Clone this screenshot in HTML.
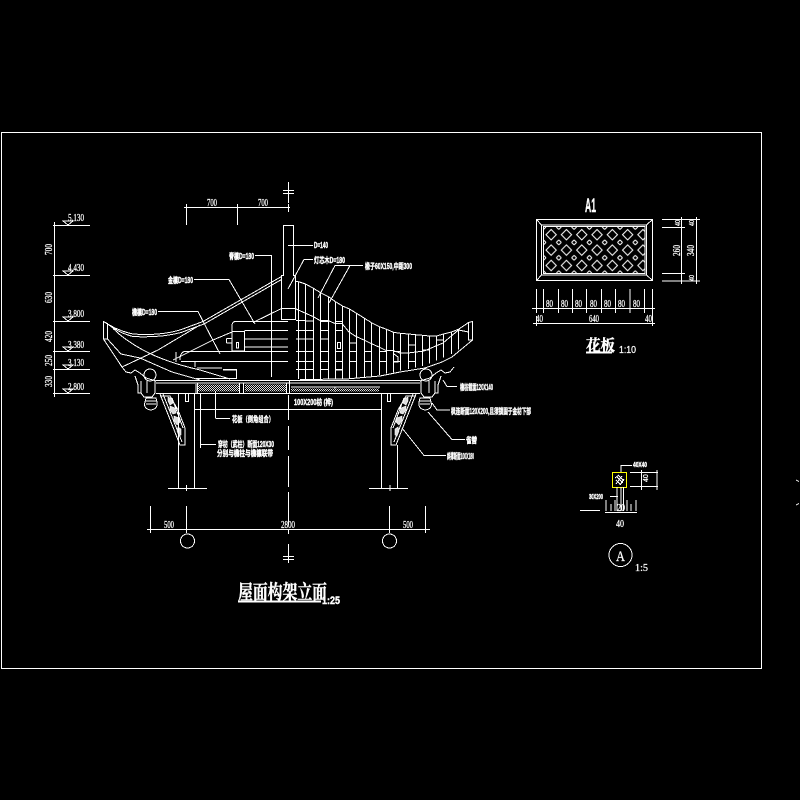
<!DOCTYPE html>
<html><head><meta charset="utf-8"><style>
html,body{margin:0;padding:0;background:#000}
svg{display:block}
.l{fill:none;stroke:#fff;stroke-width:1;shape-rendering:crispEdges}
text{fill:#fff;stroke:#fff;stroke-width:.25;font-family:"Liberation Sans","Noto Sans CJK SC",sans-serif;font-size:8px}
.b{font-weight:bold;stroke-width:.4}
.s{font-family:"Liberation Serif","Noto Serif CJK SC",serif}
</style></head><body>
<svg width="800" height="800" viewBox="0 0 800 800" xmlns="http://www.w3.org/2000/svg">
<defs>
<pattern id="h" width="2" height="2" patternUnits="userSpaceOnUse"><rect width="2" height="2" fill="#000"/><rect width="1" height="1" fill="#ddd"/><rect x="1" y="1" width="1" height="1" fill="#ddd"/></pattern>
<pattern id="d" x="543.5" y="227" width="15.3" height="15.4" patternUnits="userSpaceOnUse">
<rect width="15.3" height="15.4" fill="#000"/>
<path d="M7.65 2.5L12.8 7.7L7.65 12.9L2.5 7.7Z M0 2.5L2.5 0 M12.8 0L15.3 2.5 M0 12.9L2.5 15.4 M15.3 12.9L12.8 15.4" fill="none" stroke="#fff" stroke-width="1"/>
</pattern>
<g id="e">
<path class="l" d="M122 367L126 372L131 373L135 370L140 373L146 378L156 381"/>
<circle class="l" cx="150" cy="375" r="6"/>
<path class="l" d="M135 376L138 385V393H141L144 397H152L155 393V380M141 381V393M147 381V393"/>
<path class="l" d="M146 398H156L157 402Q158 409 151 410Q143 409 145 402ZM145 401H157M146 404H156"/>
<path class="l" d="M160 394L180 445H185V428L178 410L170 396H160M163 394L182 442M172 398L183 428"/>
<path d="M168 397l4 2 1 4-3 2-2-4zM170 406l5 2 1 5-3 1-3-4zM174 416l5 2 1 4-3 3-3-5zM178 427l3 2 0 6-2 1-2-5z" fill="#ddd" stroke="#fff" stroke-width=".6"/>
<rect class="l" x="185.5" y="393.5" width="3" height="8"/>
</g>
</defs>
<rect width="800" height="800" fill="#000"/>
<rect class="l" x="1.5" y="132.5" width="760" height="536"/>
<path class="l" d="M796 480l3 1.5M796 505l3-1.5"/>

<!-- elevation column -->
<path class="l" d="M53 225.5H90M53 275.5H90M53 321.5H90M53 351.5H90M53 369.5H90M53 393.5H90M54.5 222V397"/>
<path class="l" d="M63 221H73L68 225ZM63 271H73L68 275ZM63 317H73L68 321ZM63 347H73L68 351ZM63 365H73L68 369ZM63 389H73L68 393Z"/>
<text x="68" y="221" textLength="16" lengthAdjust="spacingAndGlyphs" class="s" style="font-size:10px">5.130</text>
<text x="68" y="271" textLength="16" lengthAdjust="spacingAndGlyphs" class="s" style="font-size:10px">4.430</text>
<text x="68" y="317" textLength="16" lengthAdjust="spacingAndGlyphs" class="s" style="font-size:10px">3.800</text>
<text x="68" y="348" textLength="16" lengthAdjust="spacingAndGlyphs" class="s" style="font-size:10px">3.380</text>
<text x="68" y="366" textLength="16" lengthAdjust="spacingAndGlyphs" class="s" style="font-size:10px">3.130</text>
<text x="68" y="390" textLength="16" lengthAdjust="spacingAndGlyphs" class="s" style="font-size:10px">2.800</text>
<text transform="translate(52 255) rotate(-90)" textLength="11" lengthAdjust="spacingAndGlyphs" class="s" style="font-size:10px">700</text>
<text transform="translate(52 303) rotate(-90)" textLength="11" lengthAdjust="spacingAndGlyphs" class="s" style="font-size:10px">630</text>
<text transform="translate(52 342) rotate(-90)" textLength="11" lengthAdjust="spacingAndGlyphs" class="s" style="font-size:10px">420</text>
<text transform="translate(52 366) rotate(-90)" textLength="11" lengthAdjust="spacingAndGlyphs" class="s" style="font-size:10px">250</text>
<text transform="translate(52 387) rotate(-90)" textLength="11" lengthAdjust="spacingAndGlyphs" class="s" style="font-size:10px">330</text>

<!-- top dim -->
<path class="l" d="M184 207.5H290M186.5 204V225M237.5 204V225M288.5 204V212"/>
<text x="207" y="206" textLength="10" lengthAdjust="spacingAndGlyphs" class="s" style="font-size:10px">700</text>
<text x="258" y="206" textLength="10" lengthAdjust="spacingAndGlyphs" class="s" style="font-size:10px">700</text>

<!-- centreline -->
<path class="l" d="M288.5 182V203M283 190.5H294M283 193.5H294M288.5 395V420M288.5 426V450M288.5 456V487M288.5 492V525M288.5 530V534M288.5 544V563M283 556.5H294M283 559.5H294"/>

<!-- post -->
<path class="l" d="M283.5 225.5H293.5V275.5H295.5V319.5H281.5V275.5H283.5ZM281.5 308.5H295.5"/>

<!-- roof left -->
<path class="l" d="M281.5 276.5L203 321.5L180 330Q160 336 133 334Q118 331 103.5 321.5"/>
<path class="l" d="M281.5 279.5L204 324L181 332.5Q160 338 133 336.5Q119 333 107.5 324"/>
<path class="l" d="M103.5 321.5L107.5 323.500V339H103.500ZM103.500 339L122 367M107.500 339L121 354L140 358L172 372L200 380"/>
<path class="l" d="M110 325Q121 338 143 350T200 370L230 379"/>
<path class="l" d="M122 367L158 350L200 325"/>
<path class="l" d="M173 360L213 340L232 332M253 322.500L281.500 308.500"/>
<path class="l" d="M288 321.500H235Q232 322 232 326V331.500M232 331.500H244.500V351H232ZM226.500 338.500H232M226.500 343H232M226.500 338.500V343M236.500 342.500H238.500V348H236.500ZM244.500 330.500H288M244.500 339H288M244.500 347H288"/>
<path class="l" d="M185 351.500H288M180 360Q180 352 185 351.500M176 362V352M195 362V367M181 361.500H288M197 368H222M196 378.500H236.500V370M223 370H237"/>
<path d="M223 369h14v1.500h-14z" fill="#fff"/>
<use href="#e"/>
<use href="#e" transform="matrix(-1 0 0 1 576 0)"/>

<!-- beam + panels -->
<path class="l" d="M156 380.500H420M156 383H420M156 393.500H420M197.500 383V393.500M196 384V393M239.500 383V393M243.500 383V393M286.500 383V393.500M289.500 381V393.500"/>
<rect x="198" y="384.500" width="41" height="7" fill="url(#h)"/>
<rect x="245" y="384.500" width="41" height="7" fill="url(#h)"/>
<path class="l" d="M291 387H335V392M335 387H380"/>
<rect x="291" y="388.500" width="88" height="3" fill="url(#h)"/>

<!-- columns -->
<path class="l" d="M178.500 393V488M194.500 393V488M168 488.500H207M186.500 485V491M381.500 393V488M397.500 445V488M369 488.500H408M390 485V491M195 409.500H381.500M200.500 393V448M215.500 391V418"/>

<!-- rafters -->
<path class="l" d="M298.500 281.700V379M305.500 284V379M313.500 288.300V379M320.500 292.700V379M328.500 296.700V379M335.500 301.700V379M342.500 306V379M349.500 309V378.500M356.500 313.300V378.300M364.500 318.300V377.300M371.500 322.700V376.300M379.500 326.700V375M386.500 329.300V373.700M393.500 332.300V372.300M400.500 333.300V370.700M408.500 334V369M415.500 334.700V367.700M422.500 335.300V366M429.500 336V363.300M436.500 336V360.300M443.500 334V357.700M451.500 332V354M458.500 329.300V349.300"/>
<path class="l" d="M295 281.500L298.500 281.700L305.500 284L313.500 288.300L320.500 292.700L328.500 296.700L335.500 301.700L342.500 306L349.500 309L356.500 313.300L364.500 318.300L371.500 322.700L379.500 326.700L386.500 329.300L393.500 332.300L400.500 333.300L408.500 334L415.500 334.700L422.500 335.300L429.500 336L436.500 336L443.500 334L451.500 332L458.500 329.300L468.500 322.500L472.500 321.500V340H468.500V322"/>
<path class="l" d="M472.500 340L452 357L442 362L425 368L400 372L380 376L346 379L300 379.500"/>
<path class="l" d="M468.500 332L458.500 330L443 343L424 351L408 353"/>
<path class="l" d="M295 308.500L305 313L313 316.500L320 320.500H328L335 323.500H342L349 332L356 336.500L364 340L371 343.500L379 347L386 350.500H393L400 353H408"/>
<path class="l" d="M296 320.500H305M296 330.500H305M296 339H305M296 351.500H305M296 361.500H305M296 369.500H305M306 321H313M306 330.500H313M306 339H313M306 351.500H313M306 361.500H313M306 369.500H313M320.500 321.500H328.500M320.500 330.500H328.500M320.500 339H328.500M320.500 351.500H328.500M320.500 361.500H328.500M320.500 369.500H328.500M335.500 321.500H342.500M335.500 330.500H342.500M335.500 351.500H342.500M335.500 361.500H342.500M349.500 343H356.500M349.500 351.500H356.500M349.500 361.500H356.500M364.500 351.500H371.500M364.500 361.500H371.500M379.500 351.500H386.500M379.500 361.500H386.500M393.500 351.500H400.500M393.500 361.500H400.500M408.500 345H415.500M408.500 361.500H415.500M422.500 350H429.500M436.500 340H443.500"/>
<rect class="l" x="337.500" y="342.500" width="3" height="6"/>
<path d="M335 369h7v1.500h-7z" fill="#fff"/>
<path class="l" d="M394 354L398 357V362H394"/>

<!-- leaders & labels left -->
<path class="l" d="M255 255.500H271.500V377"/>
<text x="229" y="259" textLength="25" lengthAdjust="spacingAndGlyphs" class="b">脊檩D=180</text>
<path class="l" d="M194 279.500H229L255 324"/>
<text x="168" y="283" textLength="25" lengthAdjust="spacingAndGlyphs" class="b">金檩D=180</text>
<path class="l" d="M158 311.500H198L220 354"/>
<text x="132" y="315" textLength="25" lengthAdjust="spacingAndGlyphs" class="b">檐檩D=180</text>

<!-- leaders & labels right -->
<path class="l" d="M288 245.500H313"/>
<text x="314" y="248" textLength="14" lengthAdjust="spacingAndGlyphs" class="b" style="font-size:8px">D=140</text>
<path class="l" d="M313 259.500H304L288 289"/>
<text x="314" y="263" textLength="31" lengthAdjust="spacingAndGlyphs" class="b">灯芯木D=180</text>
<path class="l" d="M363 265.500H335L318 298M335 265.500H350L329 303"/>
<text x="365" y="269" textLength="47" lengthAdjust="spacingAndGlyphs" class="b">椽子60X150,中距300</text>
<path class="l" d="M443 380L447 386.500H457"/>
<text x="460" y="390" textLength="33" lengthAdjust="spacingAndGlyphs" class="b">檐枋截面120X140</text>
<text x="294" y="405" textLength="39" lengthAdjust="spacingAndGlyphs" class="b">100X200枋 (桦)</text>
<text x="451" y="414" textLength="80" lengthAdjust="spacingAndGlyphs" class="b">枫连断面120X200,且须锁固于金枋下部</text>
<path class="l" d="M432 403L437 410H450"/>
<path class="l" d="M428 412L452 439.500H465"/>
<text x="466" y="443" textLength="11" lengthAdjust="spacingAndGlyphs" class="b">雀替</text>
<path class="l" d="M402 428L424 455.500H446"/>
<text x="447" y="459" textLength="27" lengthAdjust="spacingAndGlyphs" class="b">斜撑断面100X180</text>

<!-- lower labels -->
<path class="l" d="M215.500 418.500H230"/>
<text x="232" y="422" textLength="42" lengthAdjust="spacingAndGlyphs" class="b">花板（倒角组合）</text>
<path class="l" d="M200.500 444.500H216"/>
<text x="218" y="447" textLength="56" lengthAdjust="spacingAndGlyphs" class="b">穿枋（武柱）断面120X30</text>
<text x="217" y="456" textLength="56" lengthAdjust="spacingAndGlyphs" class="b">分别与檐柱与檐檩联带</text>

<!-- bottom dim -->
<path class="l" d="M147 529.500H430M150.500 506V533M186.500 506V533M389.500 506V533M425.500 506V533"/>
<circle class="l" cx="187.500" cy="541" r="7"/>
<circle class="l" cx="389.500" cy="541" r="7"/>
<text x="164" y="528" textLength="10" lengthAdjust="spacingAndGlyphs" class="s" style="font-size:10px">500</text>
<text x="281" y="528" textLength="14" lengthAdjust="spacingAndGlyphs" class="s" style="font-size:10px">2800</text>
<text x="403" y="528" textLength="10" lengthAdjust="spacingAndGlyphs" class="s" style="font-size:10px">500</text>

<!-- title -->
<text x="238" y="599" textLength="89" lengthAdjust="spacingAndGlyphs" class="s b" style="font-size:20px">屋面构架立面</text>
<rect x="238" y="600.500" width="83" height="2" fill="#fff"/>
<text x="322" y="604" textLength="18" lengthAdjust="spacingAndGlyphs" class="b" style="font-size:11px">1:25</text>

<!-- panel -->
<text x="585" y="212" textLength="11" lengthAdjust="spacingAndGlyphs" class="b" style="font-size:19px">A1</text>
<rect x="543.500" y="227" width="101.500" height="46.500" fill="url(#d)"/>
<rect class="l" x="536.500" y="219.500" width="116" height="61"/>
<rect class="l" x="541.500" y="225" width="105" height="50"/>
<rect class="l" x="543.500" y="226.500" width="101.500" height="47"/>
<path class="l" d="M536.500 219.500L541.500 225M652.500 219.500L646.500 225M536.500 280.500L541.500 275M652.500 280.500L646.500 275"/>
<path class="l" d="M662 219.500H700M662 227.500H685M662 273.500H685M662 281H700M681.500 217V284M696.500 217V284"/>
<text transform="translate(680 226) rotate(-90)" textLength="6" lengthAdjust="spacingAndGlyphs" style="font-size:7px">40</text>
<text transform="translate(694 226) rotate(-90)" textLength="6" lengthAdjust="spacingAndGlyphs" style="font-size:7px">40</text>
<text transform="translate(680 256) rotate(-90)" textLength="11" lengthAdjust="spacingAndGlyphs" class="s" style="font-size:10px">260</text>
<text transform="translate(694 256) rotate(-90)" textLength="11" lengthAdjust="spacingAndGlyphs" class="s" style="font-size:10px">340</text>
<text transform="translate(694 281) rotate(-90)" textLength="6" lengthAdjust="spacingAndGlyphs" style="font-size:7px">40</text>
<path class="l" d="M536.500 289V313M543.500 289V313M558.500 289V313M572.500 289V313M586.500 289V313M601.500 289V313M615.500 289V313M630 289V313M644.500 289V313M652.500 289V326M532 308.500H655M533 323.500H655M536.500 316V326"/>
<text x="546" y="307" textLength="7" lengthAdjust="spacingAndGlyphs" class="s" style="font-size:10px">80</text>
<text x="561" y="307" textLength="7" lengthAdjust="spacingAndGlyphs" class="s" style="font-size:10px">80</text>
<text x="575" y="307" textLength="7" lengthAdjust="spacingAndGlyphs" class="s" style="font-size:10px">80</text>
<text x="590" y="307" textLength="7" lengthAdjust="spacingAndGlyphs" class="s" style="font-size:10px">80</text>
<text x="604" y="307" textLength="7" lengthAdjust="spacingAndGlyphs" class="s" style="font-size:10px">80</text>
<text x="618" y="307" textLength="7" lengthAdjust="spacingAndGlyphs" class="s" style="font-size:10px">80</text>
<text x="633" y="307" textLength="7" lengthAdjust="spacingAndGlyphs" class="s" style="font-size:10px">80</text>
<text x="536" y="322" textLength="7" lengthAdjust="spacingAndGlyphs" class="s" style="font-size:10px">40</text>
<text x="589" y="322" textLength="10" lengthAdjust="spacingAndGlyphs" class="s" style="font-size:10px">640</text>
<text x="645" y="322" textLength="7" lengthAdjust="spacingAndGlyphs" class="s" style="font-size:10px">40</text>
<text x="586" y="351" textLength="29" lengthAdjust="spacingAndGlyphs" class="s b" style="font-size:16px">花板</text>
<rect x="586" y="351.500" width="26" height="2" fill="#fff"/>
<text x="619" y="353" textLength="17" lengthAdjust="spacingAndGlyphs" style="font-size:10px">1:10</text>

<!-- detail A -->
<rect x="612.500" y="472.500" width="14" height="15" fill="none" stroke="#ff0" stroke-width="1" shape-rendering="crispEdges"/>
<path class="l" d="M616 484L622 476M615 478L619 475M620 485L624 479M617 477L623 483M616 480L621 485M619 476L624 481"/>
<path class="l" d="M621 472V465.500H632M621 487V511M623.500 487V511M617 487V511M610 496.500H618"/>
<text x="633" y="467" textLength="14" lengthAdjust="spacingAndGlyphs" class="b" style="font-size:7px">40X40</text>
<text x="589" y="499" textLength="14" lengthAdjust="spacingAndGlyphs" class="b" style="font-size:7px">30X200</text>
<path class="l" d="M630 472.500H658M630 486.500H658M641.500 470V490M657 470V490M580 510.500H600M606 511V500M611 511V504M615 511V500M627 511V500M631 511V504M636 511V500M605 512.500H637"/>
<text transform="translate(648 482) rotate(-90)" style="font-size:7px">40</text>
<text x="617" y="511" textLength="8" lengthAdjust="spacingAndGlyphs" class="s" style="font-size:10px">20</text>
<text x="616" y="527" textLength="8" lengthAdjust="spacingAndGlyphs" class="s" style="font-size:10px">40</text>
<circle class="l" cx="620.500" cy="555" r="11.500"/>
<text x="616" y="561" textLength="9" lengthAdjust="spacingAndGlyphs" class="s" style="font-size:15px">A</text>
<text x="635" y="571" textLength="13" lengthAdjust="spacingAndGlyphs" class="s" style="font-size:10px">1:5</text>
</svg>
</body></html>
